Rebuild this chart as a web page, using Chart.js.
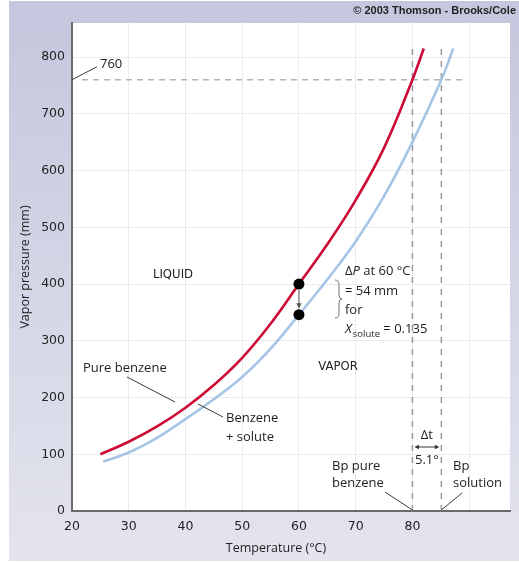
<!DOCTYPE html>
<html>
<head>
<meta charset="utf-8">
<script src="https://cdn.jsdelivr.net/npm/chart.js@4.4.1/dist/chart.umd.min.js"></script>
<style>
  html, body { margin: 0; padding: 0; background: #fff; }
  #wrap { width: 519px; height: 563px; }
</style>
</head>
<body>
<div id="wrap"><canvas id="chart" width="519" height="563"></canvas></div>
<script>
// vapor pressure of pure benzene (mm) vs temperature (°C)
const pureTemps = [25, 30, 35, 40, 45, 50, 55, 60, 65, 70, 75, 80, 82];
const purePressures = [100, 122, 149, 182, 222, 270, 330, 400, 470, 548, 640, 760, 815];

// benzene + solute
const solutionTemps = [25.5, 30, 35, 40, 45, 50, 55, 60, 65, 70, 75, 80, 85.1, 87.2];
const solutionPressures = [87, 103, 129, 162, 197, 236, 286, 346, 408, 475, 555, 650, 760, 815];

// the two dots at 60 °C
const markerTemps = [60, 60];
const markerPressures = [400, 346];

const xTickValues = [20, 30, 40, 50, 60, 70, 80, 90];
const xTickLabels = ['20', '30', '40', '50', '60', '70', '80', ''];
const yTickValues = [0, 100, 200, 300, 400, 500, 600, 700, 800];

const atmPressure = 760;
const boilingPoints = [80, 85.1]; // pure benzene, solution

const toPoints = (xs, ys) => xs.map((x, i) => ({ x, y: ys[i] }));

const SANS = '"Open Sans", "DejaVu Sans", sans-serif';
const TEXT = '#232323';

function arrowHead(ctx, x, y, dir, size) {
  // dir: angle the arrow points to
  ctx.beginPath();
  ctx.moveTo(x, y);
  ctx.lineTo(x - size * Math.cos(dir - 0.45), y - size * Math.sin(dir - 0.45));
  ctx.lineTo(x - size * Math.cos(dir + 0.45), y - size * Math.sin(dir + 0.45));
  ctx.closePath();
  ctx.fill();
}

function line(ctx, x1, y1, x2, y2) {
  ctx.beginPath();
  ctx.moveTo(x1, y1);
  ctx.lineTo(x2, y2);
  ctx.stroke();
}

const backgroundPlugin = {
  id: 'background',
  beforeDraw(chart) {
    const { ctx, chartArea } = chart;
    ctx.save();
    ctx.fillStyle = '#ffffff';
    ctx.fillRect(0, 0, chart.width, chart.height);
    const g = ctx.createLinearGradient(0, 0, 0, chart.height);
    g.addColorStop(0, '#c4c7dd');
    g.addColorStop(1, '#e3e4ee');
    ctx.fillStyle = g;
    ctx.fillRect(9, 1, chart.width - 9, chart.height - 3);
    ctx.fillStyle = '#ffffff';
    ctx.fillRect(chartArea.left, chartArea.top, chartArea.right - chartArea.left, chartArea.bottom - chartArea.top);
    ctx.restore();
  }
};

const referencePlugin = {
  id: 'reference',
  beforeDatasetsDraw(chart) {
    const { ctx, chartArea } = chart;
    const xs = chart.scales.x, ys = chart.scales.y;
    ctx.save();
    // 760 mm line
    ctx.strokeStyle = '#b4b4b4';
    ctx.lineWidth = 1.5;
    ctx.setLineDash([6, 5]);
    const y760 = ys.getPixelForValue(atmPressure);
    line(ctx, chartArea.left + 10, y760, xs.getPixelForValue(89.5), y760);
    // boiling point lines
    ctx.strokeStyle = '#9a9a9a';
    ctx.setLineDash([6, 6]);
    boilingPoints.forEach(t => {
      const x = xs.getPixelForValue(t);
      line(ctx, x, chartArea.bottom, x, chartArea.top + 22);
    });
    ctx.restore();
  }
};

const annotationPlugin = {
  id: 'annotations',
  afterDatasetsDraw(chart) {
    const { ctx, chartArea } = chart;
    const xs = chart.scales.x, ys = chart.scales.y;
    const px = v => xs.getPixelForValue(v);
    const py = v => ys.getPixelForValue(v);
    ctx.save();
    ctx.fillStyle = TEXT;
    ctx.strokeStyle = '#3a3a3a';
    ctx.lineWidth = 1;
    ctx.textBaseline = 'middle';

    // copyright
    ctx.font = 'bold 11px "Liberation Sans", Arial, sans-serif';
    ctx.textAlign = 'right';
    ctx.fillText('\u00a9 2003 Thomson - Brooks/Cole', 516, 11);

    // axis titles
    ctx.font = '12.5px ' + SANS;
    ctx.textAlign = 'center';
    ctx.fillText('Temperature (\u00b0C)', 276, 548);
    ctx.save();
    ctx.translate(25, (chartArea.top + chartArea.bottom) / 2);
    ctx.rotate(-Math.PI / 2);
    ctx.fillText('Vapor pressure (mm)', 0, 0);
    ctx.restore();

    // 760 label
    ctx.font = '13px ' + SANS;
    ctx.textAlign = 'left';
    line(ctx, chartArea.left, py(atmPressure), chartArea.left + 25, py(atmPressure) - 13);
    ctx.fillText('760', chartArea.left + 28, py(atmPressure) - 15);

    // region labels
    ctx.font = '13px "DejaVu Sans Condensed", ' + SANS;
    ctx.textAlign = 'center';
    ctx.fillText('LIQUID', 173, 275);
    ctx.fillText('VAPOR', 338, 367);

    // curve labels
    ctx.font = '13px ' + SANS;
    ctx.textAlign = 'left';
    ctx.fillText('Pure benzene', 83, 368);
    line(ctx, 127, 377, 175, 402);
    ctx.fillText('Benzene', 226, 418);
    ctx.fillText('+ solute', 226, 437);
    line(ctx, 198, 404, 223, 417);

    // arrow between the dots
    const x60 = px(markerTemps[0]);
    ctx.strokeStyle = '#555';
    ctx.fillStyle = '#555';
    line(ctx, x60, py(markerPressures[0]) + 6, x60, py(markerPressures[1]) - 10);
    arrowHead(ctx, x60, py(markerPressures[1]) - 6, Math.PI / 2, 6);

    // brace
    ctx.strokeStyle = '#777';
    ctx.beginPath();
    ctx.moveTo(335, 280);
    ctx.quadraticCurveTo(339, 280, 339, 285);
    ctx.lineTo(339, 295);
    ctx.quadraticCurveTo(339, 299, 342, 299);
    ctx.quadraticCurveTo(339, 299, 339, 303);
    ctx.lineTo(339, 313);
    ctx.quadraticCurveTo(339, 318, 335, 318);
    ctx.stroke();

    // delta P text
    ctx.fillStyle = TEXT;
    let x = 345;
    ctx.font = '13px ' + SANS;
    ctx.fillText('\u0394', x, 271);
    x += ctx.measureText('\u0394').width;
    ctx.font = 'italic 13px ' + SANS;
    ctx.fillText('P', x, 271);
    x += ctx.measureText('P').width;
    ctx.font = '13px ' + SANS;
    ctx.fillText(' at 60 \u00b0C', x, 271);
    ctx.fillText('= 54 mm', 345, 291);
    ctx.fillText('for', 345, 310);
    x = 345;
    ctx.font = 'italic 13px ' + SANS;
    ctx.fillText('X', x, 329);
    x += ctx.measureText('X').width + 1;
    ctx.font = '9.5px ' + SANS;
    ctx.fillText('solute', x, 334);
    x += ctx.measureText('solute').width;
    ctx.font = '13px ' + SANS;
    ctx.fillText(' = 0.135', x, 329);

    // delta t
    const xb1 = px(boilingPoints[0]), xb2 = px(boilingPoints[1]);
    ctx.textAlign = 'center';
    ctx.fillText('\u0394t', (xb1 + xb2) / 2, 435);
    ctx.fillText('5.1\u00b0', (xb1 + xb2) / 2, 460);
    ctx.strokeStyle = '#333';
    ctx.fillStyle = '#333';
    line(ctx, xb1 + 4, 447, xb2 - 4, 447);
    arrowHead(ctx, xb1 + 2, 447, Math.PI, 5);
    arrowHead(ctx, xb2 - 2, 447, 0, 5);

    // boiling point labels
    ctx.fillStyle = TEXT;
    ctx.textAlign = 'left';
    ctx.fillText('Bp pure', 332, 466);
    ctx.fillText('benzene', 332, 483);
    ctx.fillText('Bp', 453, 466);
    ctx.fillText('solution', 453, 483);
    ctx.strokeStyle = '#3a3a3a';
    line(ctx, 385, 492, xb1, chartArea.bottom - 1);
    line(ctx, 462, 493, xb2, chartArea.bottom - 1);

    ctx.restore();
  }
};

new Chart(document.getElementById('chart'), {
  type: 'line',
  data: {
    datasets: [
      {
        label: 'Pure benzene',
        data: toPoints(pureTemps, purePressures),
        borderColor: '#cc0a36',
        borderWidth: 2.6,
        pointRadius: 0,
        tension: 0.4,
        fill: false,
        order: 1
      },
      {
        label: 'Benzene + solute',
        data: toPoints(solutionTemps, solutionPressures),
        borderColor: '#a6c5e6',
        borderWidth: 2.6,
        pointRadius: 0,
        tension: 0.4,
        fill: false,
        order: 2
      },
      {
        label: 'At 60 °C',
        data: toPoints(markerTemps, markerPressures),
        showLine: false,
        pointRadius: 5.5,
        pointBorderWidth: 0,
        pointBackgroundColor: '#000',
        pointBorderColor: '#000',
        order: 0
      }
    ]
  },
  options: {
    responsive: false,
    animation: false,
    layout: { padding: { top: 23, right: 9, left: 0, bottom: 0 } },
    plugins: {
      legend: { display: false },
      tooltip: { enabled: false }
    },
    scales: {
      x: {
        type: 'linear',
        min: 20,
        max: 97.2,
        afterBuildTicks(scale) {
          scale.ticks = xTickValues.map(value => ({ value }));
        },
        afterFit(scale) { scale.height = 52; },
        ticks: {
          padding: 8,
          color: TEXT,
          font: { family: '"DejaVu Sans", sans-serif', size: 12.5 },
          callback(value) {
            const i = xTickValues.indexOf(value);
            return i >= 0 ? xTickLabels[i] : '';
          }
        },
        grid: { color: '#ebebef', drawTicks: false },
        border: { color: '#6a6a6a', width: 2 }
      },
      y: {
        type: 'linear',
        min: 0,
        max: 860,
        afterBuildTicks(scale) {
          scale.ticks = yTickValues.map(value => ({ value }));
        },
        afterFit(scale) { scale.width = 72; },
        ticks: {
          padding: 7,
          color: TEXT,
          font: { family: '"DejaVu Sans", sans-serif', size: 12.5 }
        },
        grid: { color: '#ebebef', drawTicks: false },
        border: { color: '#6a6a6a', width: 2 }
      }
    }
  },
  plugins: [backgroundPlugin, referencePlugin, annotationPlugin]
});
</script>
</body>
</html>
